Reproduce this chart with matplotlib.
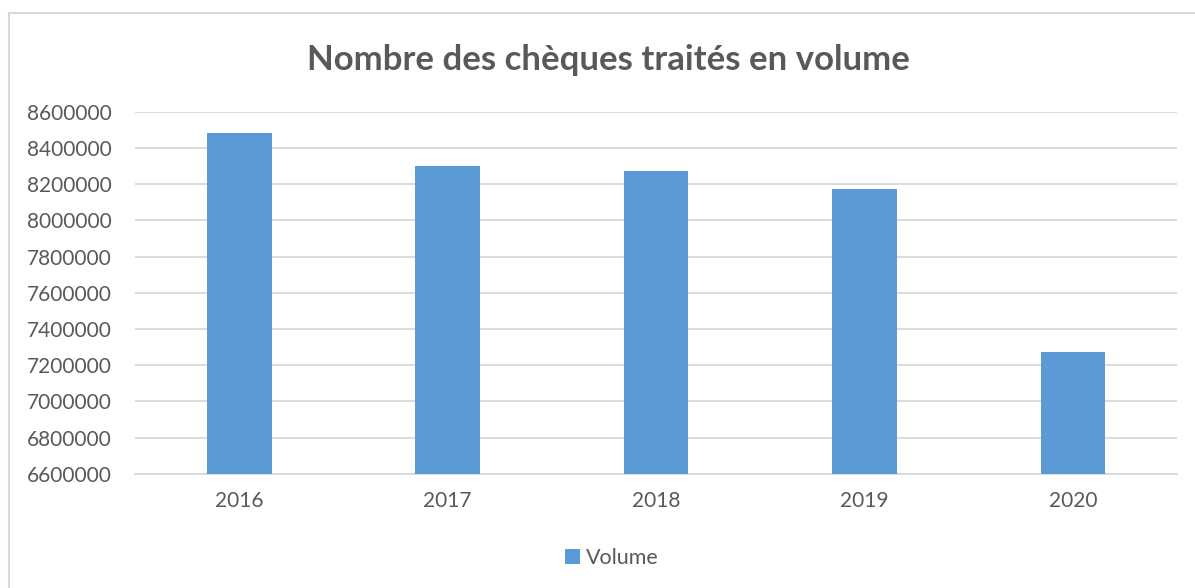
import numpy as np
import matplotlib.pyplot as plt
from matplotlib.patches import Rectangle

years = ['2016', '2017', '2018', '2019', '2020']
volume = [8480000, 8300000, 8270000, 8175000, 7275000]
y_ticks = [6600000, 6800000, 7000000, 7200000, 7400000, 7600000,
           7800000, 8000000, 8200000, 8400000, 8600000]

bar_color = '#5B9BD5'
text_color = '#595959'
grid_color = '#D9D9D9'

plt.rcParams['font.family'] = ['Lato', 'DejaVu Sans']

fig = plt.figure(figsize=(11.95, 5.88), dpi=100)
ax = fig.add_axes([0.113, 0.194, 0.872, 0.616])

x = np.arange(len(years))
ax.bar(x, np.array(volume) - y_ticks[0], bottom=y_ticks[0], width=0.31,
       color=bar_color, label='Volume', zorder=3)

ax.set_xlim(-0.5, len(years) - 0.5)
ax.set_ylim(y_ticks[0], y_ticks[-1])
ax.set_xticks(x)
ax.set_xticklabels(years)
ax.set_yticks(y_ticks)
ax.set_yticklabels([str(v) for v in y_ticks])
ax.tick_params(axis='both', length=0, colors=text_color, labelsize=15)
ax.tick_params(axis='x', pad=12)
ax.tick_params(axis='y', pad=17)

ax.grid(axis='y', color=grid_color, linewidth=1.3, zorder=0)
for s in ['top', 'right', 'left']:
    ax.spines[s].set_visible(False)
ax.spines['bottom'].set_color(grid_color)
ax.spines['bottom'].set_linewidth(1.3)

fig.text(0.509, 0.898, 'Nombre des chèques traités en volume', ha='center',
         va='center', fontsize=25, fontweight='bold', color=text_color)

leg = fig.legend(loc='center', bbox_to_anchor=(0.512, 0.051), frameon=False,
                 fontsize=15.5, handlelength=0.7, handleheight=0.7,
                 handletextpad=0.3)
for t in leg.get_texts():
    t.set_color(text_color)

# outer chart frame
fig.patches.append(Rectangle((9 / 1195, -0.05), 1.2, 1 - 13 / 588 + 0.05,
                             transform=fig.transFigure, fill=False,
                             edgecolor=grid_color, linewidth=1.5))

fig.savefig('out.png', dpi=100)
